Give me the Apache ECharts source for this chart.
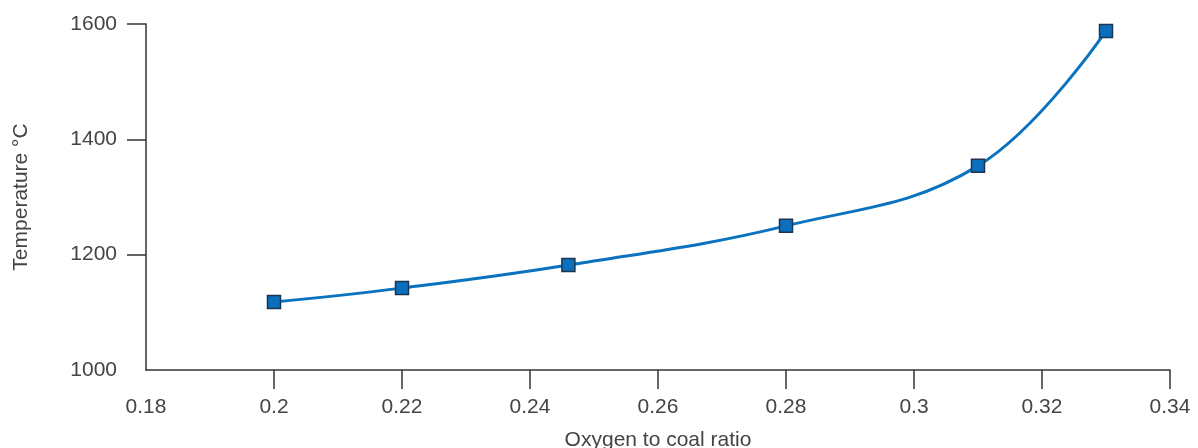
<!DOCTYPE html>
<html>
<head>
<meta charset="utf-8">
<script src="https://cdn.jsdelivr.net/npm/echarts@6/dist/echarts.min.js"></script>
<style>
  html, body { margin: 0; padding: 0; background: #fff; }
  #chart { width: 1198px; height: 448px; }
</style>
</head>
<body>
<div id="chart"></div>
<script>
// Oxygen-to-coal ratio vs gasifier temperature
const ratio = [0.2, 0.22, 0.246, 0.28, 0.31, 0.33];
const temperature = [1118, 1142, 1182, 1250, 1354, 1588];
const xTicks = [0.2, 0.22, 0.24, 0.26, 0.28, 0.3, 0.32, 0.34];
const yTicks = [1200, 1400, 1600];

const fontFamily = '"Liberation Sans", Helvetica, Arial, sans-serif';
const textColor = '#444';
const axisColor = '#333';

const chart = echarts.init(document.getElementById('chart'), null, { renderer: 'canvas' });
chart.setOption({
  animation: false,
  backgroundColor: '#fff',
  grid: { left: 146, right: 28, top: 24, bottom: 78, containLabel: false, outerBoundsMode: 'none' },
  xAxis: {
    type: 'value',
    min: 0.18,
    max: 0.34,
    interval: 0.02,
    name: 'Oxygen to coal ratio',
    nameLocation: 'middle',
    nameGap: 60,
    nameTextStyle: { fontFamily, fontSize: 21, color: textColor },
    axisLine: { show: true, lineStyle: { color: axisColor, width: 1.5 } },
    axisTick: { show: true, length: 19, lineStyle: { color: axisColor, width: 1.5 }, customValues: xTicks },
    axisLabel: { margin: 27, fontFamily, fontSize: 21, color: textColor },
    splitLine: { show: false }
  },
  yAxis: {
    type: 'value',
    min: 1000,
    max: 1600,
    interval: 200,
    name: 'Temperature \u00B0C',
    nameLocation: 'middle',
    nameGap: 114,
    nameTextStyle: { fontFamily, fontSize: 21, color: textColor },
    axisLine: { show: true, lineStyle: { color: axisColor, width: 1.5 } },
    axisTick: { show: true, length: 19, lineStyle: { color: axisColor, width: 1.5 }, customValues: yTicks },
    axisLabel: { margin: 29, fontFamily, fontSize: 21, color: textColor, formatter: v => String(v) },
    splitLine: { show: false }
  },
  series: [{
    type: 'line',
    data: ratio.map((r, i) => [r, temperature[i]]),
    smooth: 0.4,
    symbol: 'rect',
    symbolSize: 13,
    lineStyle: { color: '#0a73bf', width: 3 },
    itemStyle: { color: '#0a6fbd', borderColor: '#1d3550', borderWidth: 1.5 }
  }]
});
</script>
</body>
</html>
